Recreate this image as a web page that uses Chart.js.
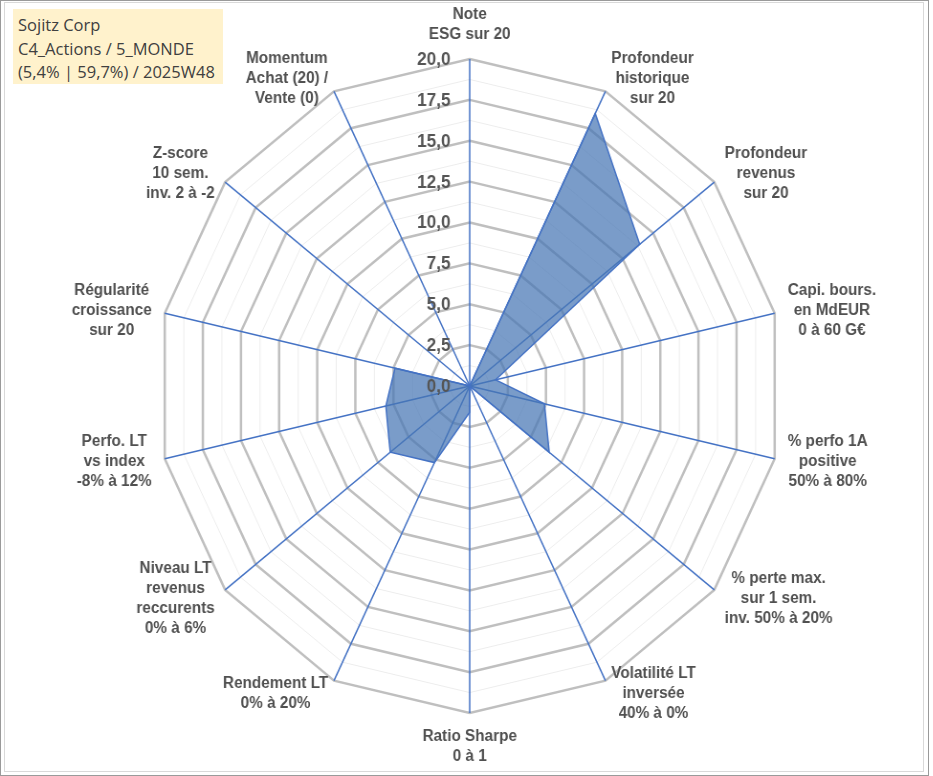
<!DOCTYPE html>
<html>
<head>
<meta charset="utf-8">
<script src="https://cdn.jsdelivr.net/npm/chart.js@4/dist/chart.umd.min.js"></script>
<style>
  html, body { margin: 0; padding: 0; background: #fff; }
  body { width: 933px; height: 776px; position: relative; overflow: hidden; }
  #frameOuter { position: absolute; left: 0; top: 0; width: 927px; height: 774px; border: 1px solid #9a9a9a; box-sizing: content-box; }
  #frameInner { position: absolute; left: 4px; top: 2px; width: 918px; height: 768px; border: 1px solid #d9d9d9; }
  #wrap { position: absolute; left: 0; top: 0; width: 975px; height: 776px; transform: scaleX(0.9566); transform-origin: 0 0; }
  #title { position: absolute; left: 13px; top: 9px; width: 210px; height: 75px; background: #FFF2CC;
           font-family: "Open Sans", "Noto Sans", sans-serif; font-size: 16.5px; line-height: 23.5px; color: #404040;
           padding: 4px 0 0 5px; box-sizing: border-box; white-space: nowrap; }
</style>
</head>
<body>
<div id="frameOuter"></div>
<div id="frameInner"></div>
<div id="wrap"><canvas id="c"></canvas></div>
<div id="title">Sojitz Corp<br>C4_Actions / 5_MONDE<br>(5,4% | 59,7%) / 2025W48</div>
<script>
// ---- Data ----
const categories = [
  ["Note", "ESG sur 20"],
  ["Profondeur", "historique", "sur 20"],
  ["Profondeur", "revenus", "sur 20"],
  ["Capi. bours.", "en MdEUR", "0 à 60 G€"],
  ["% perfo 1A", "positive", "50% à 80%"],
  ["% perte max.", "sur 1 sem.", "inv. 50% à 20%"],
  ["Volatilité LT", "inversée", "40% à 0%"],
  ["Ratio Sharpe", "0 à 1"],
  ["Rendement LT", "0% à 20%"],
  ["Niveau LT", "revenus", "reccurents", "0% à 6%"],
  ["Perfo. LT", "vs index", "-8% à 12%"],
  ["Régularité", "croissance", "sur 20"],
  ["Z-score", "10 sem.", "inv. 2 à -2"],
  ["Momentum", "Achat (20) /", "Vente (0)"]
];
const scores = [0, 18.5, 13.9, 1.7, 4.9, 6.5, 0, 1.6, 5.2, 6.5, 5.5, 4.9, 0, 0];
const tickValues = [0, 2.5, 5, 7.5, 10, 12.5, 15, 17.5, 20];
const tickLabels = ["0,0", "2,5", "5,0", "7,5", "10,0", "12,5", "15,0", "17,5", "20,0"];

const excelLabels = {
  id: 'excelLabels',
  afterDraw(chart) {
    const s = chart.scales.r;
    const ctx = chart.ctx;
    ctx.save();
    // tick labels (left of the vertical axis)
    ctx.font = 'bold 18px "Liberation Sans", Arial, sans-serif';
    ctx.fillStyle = '#555555';
    ctx.textAlign = 'right';
    ctx.textBaseline = 'middle';
    tickValues.forEach((v, i) => {
      const d = s.getDistanceFromCenterForValue(v);
      ctx.fillText(tickLabels[i], s.xCenter - 20, s.yCenter - d + 1);
    });
    // point labels
    ctx.font = 'bold 16px "Liberation Sans", Arial, sans-serif';
    ctx.fillStyle = '#505050';
    const n = chart.data.labels.length;
    const lh = 20;
    chart.data.labels.forEach((lines, i) => {
      const p = s.getPointPosition(i, s.drawingArea + 14);
      const deg = i * 360 / n;
      const h = lines.length * lh;
      const w = Math.max(...lines.map(t => ctx.measureText(t).width));
      let cx, y0;
      if (Math.abs(deg) < 0.5) { cx = p.x; y0 = p.y - h; }
      else if (Math.abs(deg - 180) < 0.5) { cx = p.x; y0 = p.y; }
      else if (deg < 180) { cx = p.x + w / 2; y0 = p.y - h / 2; }
      else { cx = p.x - w / 2; y0 = p.y - h / 2; }
      ctx.textAlign = 'center';
      ctx.textBaseline = 'middle';
      lines.forEach((t, j) => ctx.fillText(t, cx, y0 + lh * (j + 0.5)));
    });
    ctx.restore();
  }
};

new Chart(document.getElementById('c'), {
  type: 'radar',
  data: {
    labels: categories,
    datasets: [{
      data: scores,
      backgroundColor: 'rgba(70,118,180,0.72)',
      borderColor: '#4472C4',
      borderWidth: 1.5,
      pointRadius: 0,
      pointHoverRadius: 0,
      fill: true,
      tension: 0
    }]
  },
  options: {
    responsive: true,
    maintainAspectRatio: false,
    animation: false,
    events: [],
    layout: { padding: { left: 164, right: 157, top: 59, bottom: 63 } },
    plugins: { legend: { display: false }, tooltip: { enabled: false } },
    scales: {
      r: {
        min: 0,
        max: 20,
        startAngle: 0,
        ticks: { display: false, stepSize: 1.25 },
        pointLabels: { display: false },
        grid: {
          circular: false,
          color: (c) => (c.tick && Math.abs(c.tick.value / 2.5 - Math.round(c.tick.value / 2.5)) < 1e-6) ? '#BFBFBF' : '#EDEDED',
          lineWidth: (c) => (c.tick && Math.abs(c.tick.value / 2.5 - Math.round(c.tick.value / 2.5)) < 1e-6) ? 2.5 : 1
        },
        angleLines: { display: true, color: '#4472C4', lineWidth: 1.5 }
      }
    }
  },
  plugins: [excelLabels]
});
</script>
</body>
</html>
